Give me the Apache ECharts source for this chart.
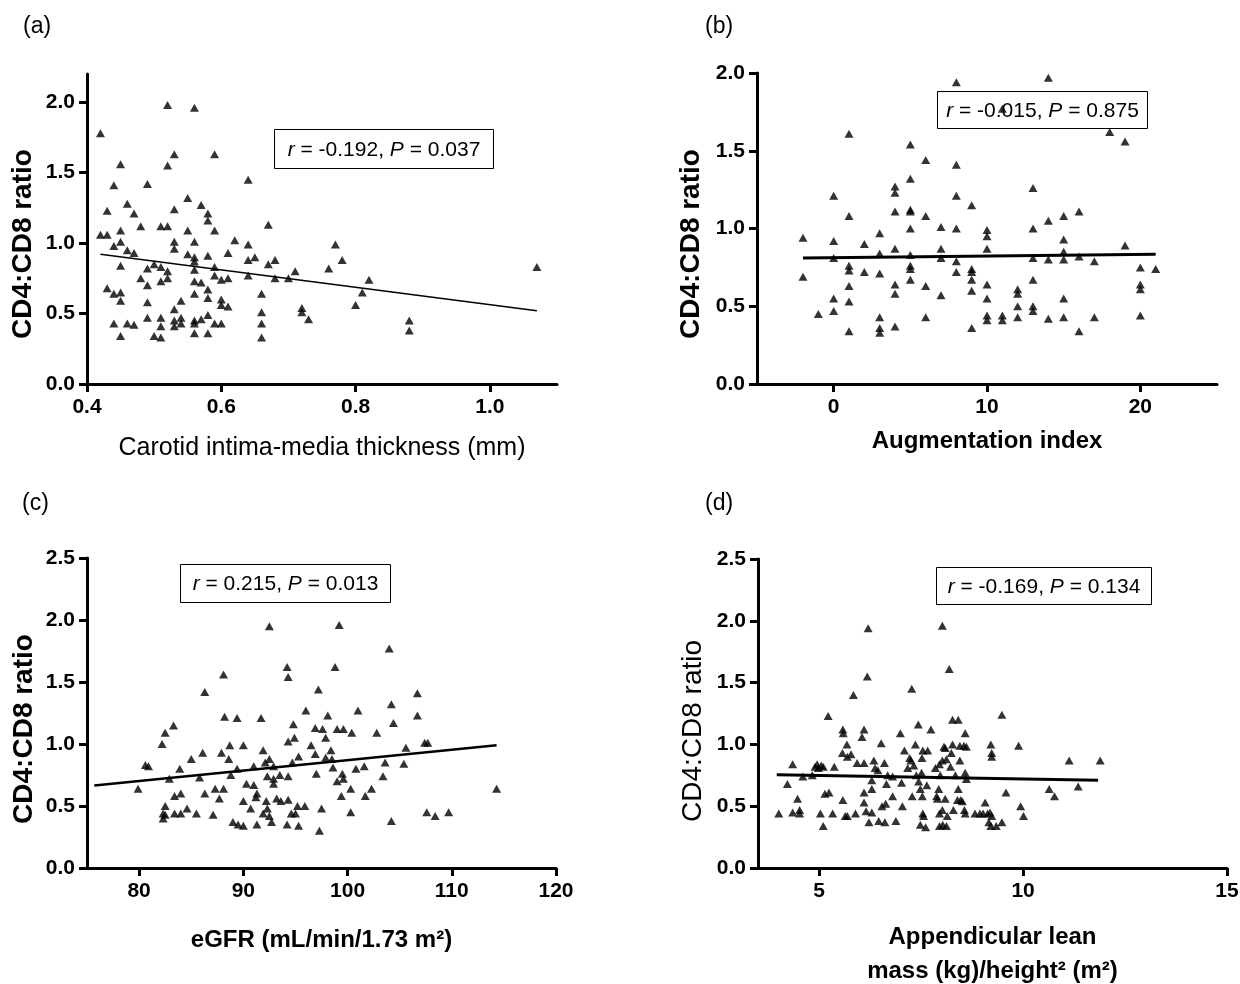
<!DOCTYPE html>
<html>
<head>
<meta charset="utf-8">
<title>CD4:CD8 ratio correlations</title>
<script src="https://cdn.jsdelivr.net/npm/echarts@6/dist/echarts.min.js"></script>
<style>
  html, body { margin: 0; padding: 0; background: #fff; }
  #chart { width: 1240px; height: 984px; }
</style>
</head>
<body>
<div id="chart"></div>
<script>
// (a) carotid IMT vs CD4:CD8
const pointsA = [[0.42,1.78],[0.42,1.06],[0.43,1.06],[0.43,1.23],[0.43,0.68],[0.44,0.64],[0.44,0.98],[0.44,1.41],[0.44,0.43],[0.45,1.56],[0.45,1.09],[0.45,1.01],[0.45,0.84],[0.45,0.65],[0.45,0.59],[0.45,0.34],[0.46,1.28],[0.46,0.95],[0.46,0.43],[0.47,1.21],[0.47,0.93],[0.47,0.42],[0.48,1.12],[0.48,0.75],[0.49,1.42],[0.49,0.82],[0.49,0.70],[0.49,0.58],[0.49,0.47],[0.50,0.85],[0.50,0.34],[0.51,1.12],[0.51,0.83],[0.51,0.73],[0.51,0.47],[0.51,0.41],[0.51,0.33],[0.52,1.98],[0.52,1.55],[0.52,1.12],[0.52,0.80],[0.52,0.75],[0.53,1.63],[0.53,1.24],[0.53,1.01],[0.53,0.96],[0.53,0.53],[0.53,0.45],[0.53,0.41],[0.54,0.59],[0.54,0.47],[0.54,0.43],[0.55,1.32],[0.55,1.09],[0.55,0.92],[0.56,1.96],[0.56,1.01],[0.56,0.90],[0.56,0.87],[0.56,0.81],[0.56,0.73],[0.56,0.64],[0.56,0.45],[0.56,0.43],[0.56,0.36],[0.57,1.27],[0.57,0.72],[0.57,0.46],[0.58,1.21],[0.58,1.16],[0.58,0.91],[0.58,0.67],[0.58,0.61],[0.58,0.49],[0.58,0.36],[0.59,1.63],[0.59,1.09],[0.59,0.83],[0.59,0.77],[0.59,0.43],[0.60,0.74],[0.60,0.60],[0.60,0.56],[0.60,0.43],[0.61,0.93],[0.61,0.75],[0.61,0.55],[0.62,1.02],[0.64,1.45],[0.64,0.99],[0.64,0.88],[0.64,0.77],[0.65,0.90],[0.66,0.64],[0.66,0.51],[0.66,0.43],[0.66,0.33],[0.67,1.13],[0.67,0.85],[0.68,0.88],[0.68,0.75],[0.70,0.75],[0.71,0.80],[0.72,0.54],[0.72,0.51],[0.73,0.46],[0.76,0.82],[0.77,0.99],[0.78,0.88],[0.80,0.56],[0.81,0.65],[0.82,0.74],[0.88,0.45],[0.88,0.38],[1.07,0.83]]
const fitA = [[0.42, 0.92], [1.07, 0.52]]

// (b) augmentation index
const pointsB = [[-2,0.94],[-2,0.69],[-1,0.45],[0,1.21],[0,0.92],[0,0.81],[0,0.55],[0,0.47],[1,1.61],[1,1.08],[1,0.76],[1,0.73],[1,0.63],[1,0.53],[1,0.34],[2,0.90],[2,0.72],[3,0.97],[3,0.84],[3,0.71],[3,0.43],[3,0.36],[3,0.33],[4,1.27],[4,1.23],[4,1.11],[4,0.87],[4,0.64],[4,0.58],[4,0.37],[5,1.54],[5,1.32],[5,1.12],[5,1.11],[5,1.00],[5,0.83],[5,0.76],[5,0.74],[5,0.67],[6,1.44],[6,1.08],[6,0.63],[6,0.43],[7,1.01],[7,0.87],[7,0.81],[7,0.57],[8,1.94],[8,1.41],[8,1.21],[8,1.00],[8,0.79],[8,0.72],[9,1.15],[9,0.74],[9,0.72],[9,0.67],[9,0.60],[9,0.36],[10,0.99],[10,0.95],[10,0.87],[10,0.64],[10,0.55],[10,0.44],[10,0.41],[11,1.77],[11,0.44],[11,0.41],[12,0.61],[12,0.58],[12,0.50],[12,0.43],[13,1.26],[13,1.00],[13,0.81],[13,0.67],[13,0.50],[13,0.47],[14,1.97],[14,1.05],[14,0.80],[14,0.42],[15,1.08],[15,0.93],[15,0.85],[15,0.80],[15,0.55],[15,0.43],[16,1.11],[16,0.82],[16,0.34],[17,0.79],[17,0.43],[18,1.62],[19,1.56],[19,0.89],[20,0.75],[20,0.64],[20,0.61],[20,0.44],[21,0.74]]
const fitB = [[-2, 0.81], [21, 0.835]]

// (c) eGFR
const pointsC = [[79.9,0.64],[80.6,0.83],[80.9,0.82],[82.2,1.00],[82.5,1.09],[83.3,1.15],[82.5,0.50],[82.3,0.44],[82.3,0.40],[82.5,0.43],[82.9,0.72],[83.4,0.58],[83.4,0.44],[83.9,0.80],[84.0,0.60],[84.0,0.44],[84.6,0.48],[85.0,0.88],[85.5,0.44],[85.8,0.73],[86.1,0.93],[86.3,1.42],[86.3,0.60],[87.1,0.43],[87.3,0.64],[87.7,0.56],[87.9,0.93],[88.1,1.56],[88.2,1.22],[88.1,0.64],[88.6,0.88],[88.7,0.99],[88.8,0.75],[89.0,0.37],[89.4,1.21],[89.4,0.80],[89.5,0.35],[90.0,0.34],[90.0,0.99],[90.0,0.54],[90.3,0.68],[90.7,0.48],[91.0,0.67],[91.0,0.82],[91.2,0.57],[91.3,0.60],[91.3,0.35],[91.7,1.21],[91.9,0.44],[91.9,0.95],[92.1,0.85],[92.2,0.54],[92.3,0.48],[92.3,0.74],[92.5,1.95],[92.5,0.88],[92.5,0.42],[92.7,0.37],[92.9,0.72],[92.9,0.68],[92.9,0.82],[93.2,0.56],[93.5,0.75],[93.6,0.54],[94.2,1.62],[94.3,1.54],[94.3,1.02],[94.3,0.74],[94.3,0.55],[94.2,0.35],[94.7,0.85],[94.8,1.16],[94.6,0.44],[94.9,1.05],[95.0,0.44],[95.3,0.90],[95.2,0.50],[95.3,0.34],[95.9,0.50],[96.0,1.27],[96.5,0.99],[96.9,0.92],[96.9,1.13],[97.0,0.76],[97.2,1.44],[97.5,0.48],[97.3,0.30],[97.6,1.12],[97.9,1.05],[97.9,0.89],[98.1,1.23],[98.4,0.95],[98.6,0.81],[98.5,0.88],[98.8,1.62],[99.0,0.70],[99.0,1.12],[99.2,1.96],[99.4,0.58],[99.5,0.76],[99.6,1.12],[99.6,0.72],[100.3,0.64],[100.3,0.45],[100.4,1.09],[100.8,0.80],[101.0,1.27],[101.6,0.82],[101.7,0.58],[102.3,0.64],[102.8,1.09],[103.4,0.74],[103.6,0.85],[104.0,1.77],[104.2,1.32],[104.4,1.17],[104.2,0.38],[105.4,0.84],[105.6,0.97],[106.7,1.23],[106.7,1.41],[107.4,1.01],[107.7,1.01],[107.6,0.45],[108.4,0.42],[109.7,0.45],[114.3,0.64]]
const fitC = [[75.7, 0.665], [114.3, 0.99]]

// (d) appendicular lean mass
const pointsD = [[4.01,0.44],[4.22,0.68],[4.35,0.84],[4.35,0.45],[4.47,0.56],[4.52,0.47],[4.52,0.44],[4.60,0.74],[4.83,0.75],[4.90,0.82],[4.95,0.84],[4.98,0.81],[5.05,0.83],[5.10,0.82],[5.03,0.44],[5.10,0.34],[5.14,0.60],[5.24,0.61],[5.22,1.23],[5.33,0.44],[5.37,0.82],[5.58,1.12],[5.59,1.09],[5.57,0.93],[5.68,1.00],[5.58,0.55],[5.64,0.42],[5.69,0.42],[5.69,0.90],[5.78,0.92],[5.84,1.40],[5.89,0.44],[5.93,0.85],[6.10,1.12],[6.05,1.06],[6.10,0.85],[6.10,0.61],[6.10,0.53],[6.15,0.46],[6.20,1.94],[6.18,1.55],[6.22,0.37],[6.29,0.45],[6.29,0.71],[6.29,0.64],[6.34,0.87],[6.37,0.81],[6.44,0.79],[6.46,0.38],[6.52,1.01],[6.54,0.50],[6.60,0.85],[6.63,0.52],[6.61,0.37],[6.65,0.68],[6.68,0.75],[6.80,0.58],[6.80,0.74],[6.88,0.38],[6.99,1.09],[7.02,0.69],[7.04,0.50],[7.09,0.95],[7.17,0.81],[7.22,0.89],[7.25,0.87],[7.28,0.58],[7.27,1.45],[7.32,0.83],[7.36,1.00],[7.38,0.75],[7.43,1.16],[7.44,0.70],[7.48,0.64],[7.51,0.77],[7.52,0.89],[7.53,0.58],[7.54,0.44],[7.56,0.42],[7.48,0.35],[7.61,0.33],[7.54,0.95],[7.66,0.95],[7.64,0.67],[7.74,1.12],[7.85,0.81],[7.88,0.58],[7.90,0.56],[7.93,0.64],[7.95,0.44],[7.95,0.34],[7.95,0.84],[7.97,0.75],[8.02,1.96],[8.02,0.87],[8.02,0.47],[8.03,0.35],[8.06,0.98],[8.09,0.97],[8.09,0.56],[8.14,0.42],[8.12,0.34],[8.12,0.88],[8.19,1.61],[8.22,0.82],[8.24,0.93],[8.27,1.20],[8.27,1.00],[8.29,0.47],[8.34,0.75],[8.39,0.55],[8.41,1.20],[8.41,0.64],[8.45,0.87],[8.45,0.99],[8.47,0.55],[8.51,0.54],[8.56,0.47],[8.58,0.44],[8.58,1.09],[8.55,0.99],[8.61,0.98],[8.58,0.77],[8.61,0.72],[8.82,0.44],[8.94,0.44],[9.02,0.44],[9.07,0.53],[9.13,0.44],[9.16,0.37],[9.19,0.45],[9.21,1.00],[9.23,0.93],[9.23,0.90],[9.23,0.42],[9.21,0.34],[9.34,0.34],[9.48,1.24],[9.48,0.37],[9.58,0.61],[9.89,0.99],[9.94,0.50],[10.01,0.42],[10.64,0.64],[10.77,0.58],[11.13,0.87],[11.35,0.66],[11.89,0.87]]
const fitD = [[3.96, 0.755], [11.84, 0.71]]

// tick labels
const yTicksAB = [0, 0.5, 1.0, 1.5, 2.0]
const yTicksCD = [0, 0.5, 1.0, 1.5, 2.0, 2.5]
const xTicksA = [0.4, 0.6, 0.8, 1.0]
const xTicksB = [0, 10, 20]
const xTicksC = [80, 90, 100, 110, 120]
const xTicksD = [5, 10, 15]

const stats = ['{i|r} = -0.192, {i|P} = 0.037', '{i|r} = -0.015, {i|P} = 0.875', '{i|r} = 0.215, {i|P} = 0.013', '{i|r} = -0.169, {i|P} = 0.134']

const FONT = 'Arial, "Liberation Sans", sans-serif'

function xAxis(idx, min, max, ticks, digits, name, nameStyle, nameGap) {
  return {
    type: 'value',
    gridIndex: idx,
    min: min,
    max: max,
    name: name,
    nameLocation: 'middle',
    nameGap: nameGap,
    nameTextStyle: Object.assign({ color: '#000', fontFamily: FONT }, nameStyle),
    axisLine: { onZero: false, lineStyle: { color: '#000', width: 3 } },
    axisTick: { length: 8, customValues: ticks, lineStyle: { color: '#000', width: 3 } },
    axisLabel: {
      customValues: ticks,
      margin: 13,
      color: '#000',
      fontSize: 21,
      fontWeight: 'bold',
      fontFamily: FONT,
      formatter: (v) => v.toFixed(digits)
    },
    splitLine: { show: false }
  }
}

function yAxis(idx, max, ticks) {
  return {
    type: 'value',
    gridIndex: idx,
    min: 0,
    max: max,
    axisLine: { onZero: false, lineStyle: { color: '#000', width: 3 } },
    axisTick: { length: 8, customValues: ticks, lineStyle: { color: '#000', width: 3 } },
    axisLabel: {
      customValues: ticks,
      margin: 12,
      color: '#000',
      fontSize: 21,
      fontWeight: 'bold',
      fontFamily: FONT,
      formatter: (v) => v.toFixed(1)
    },
    splitLine: { show: false }
  }
}

function scatter(idx, data) {
  return {
    type: 'scatter',
    xAxisIndex: idx,
    yAxisIndex: idx,
    symbol: 'triangle',
    symbolSize: [9, 8],
    itemStyle: { color: '#000' },
    data: data
  }
}

function fit(idx, data, width) {
  return {
    type: 'line',
    xAxisIndex: idx,
    yAxisIndex: idx,
    symbol: 'none',
    lineStyle: { color: '#000', width: width },
    data: data,
    z: 3
  }
}

function statBox(left, top, w, h, text) {
  return {
    type: 'group',
    left: left,
    top: top,
    children: [
      { type: 'rect', shape: { x: 0, y: 0, width: w, height: h }, style: { fill: 'none', stroke: '#000', lineWidth: 1 } },
      {
        type: 'text',
        x: w / 2,
        y: h / 2 + 1,
        style: {
          text: text,
          fill: '#000',
          fontSize: 21,
          fontFamily: FONT,
          align: 'center',
          verticalAlign: 'middle',
          rich: { i: { fontStyle: 'italic', fontSize: 21, fontFamily: FONT, fill: '#000' } }
        }
      }
    ]
  }
}

function label(x, y, text) {
  return { type: 'text', x: x, y: y, style: { text: text, fill: '#000', fontSize: 23, fontFamily: FONT } }
}

function yTitle(x, y, bold) {
  return {
    type: 'text',
    x: x,
    y: y,
    rotation: Math.PI / 2,
    style: {
      text: 'CD4:CD8 ratio',
      fill: '#000',
      fontSize: 28,
      fontWeight: bold ? 'bold' : 'normal',
      fontFamily: FONT,
      align: 'center',
      verticalAlign: 'middle'
    }
  }
}

const chart = echarts.init(document.getElementById('chart'))
chart.setOption({
  animation: false,
  backgroundColor: '#fff',
  grid: [
    { left: 87, top: 74, width: 470, height: 310, outerBoundsMode: 'none' },
    { left: 757, top: 73, width: 460, height: 311, outerBoundsMode: 'none' },
    { left: 87, top: 558, width: 469, height: 310, outerBoundsMode: 'none' },
    { left: 758, top: 559, width: 469, height: 309, outerBoundsMode: 'none' }
  ],
  xAxis: [
    xAxis(0, 0.4, 1.1, xTicksA, 1, 'Carotid intima-media thickness (mm)', { fontSize: 25 }, 52),
    xAxis(1, -5, 25, xTicksB, 0, 'Augmentation index', { fontSize: 24, fontWeight: 'bold' }, 45),
    xAxis(2, 75, 120, xTicksC, 0, 'eGFR (mL/min/1.73 m²)', { fontSize: 24, fontWeight: 'bold' }, 60),
    xAxis(3, 3.5, 15, xTicksD, 0, 'Appendicular lean\nmass (kg)/height² (m²)', { fontSize: 24, fontWeight: 'bold', lineHeight: 34 }, 52)
  ],
  yAxis: [
    yAxis(0, 2.2, yTicksAB),
    yAxis(1, 2.0, yTicksAB),
    yAxis(2, 2.5, yTicksCD),
    yAxis(3, 2.5, yTicksCD)
  ],
  series: [
    scatter(0, pointsA), fit(0, fitA, 1.5),
    scatter(1, pointsB), fit(1, fitB, 3),
    scatter(2, pointsC), fit(2, fitC, 2.5),
    scatter(3, pointsD), fit(3, fitD, 3)
  ],
  graphic: [
    label(23, 15, '(a)'),
    label(705, 15, '(b)'),
    label(22, 492, '(c)'),
    label(705, 492, '(d)'),
    yTitle(23, 244, true),
    yTitle(691, 244, true),
    yTitle(24, 729, true),
    yTitle(693, 731, false),
    statBox(272, 127, 219, 39, stats[0]),
    statBox(935, 89, 210, 37, stats[1]),
    statBox(178, 562, 210, 38, stats[2]),
    statBox(934, 565, 215, 37, stats[3])
  ]
})
</script>
</body>
</html>
